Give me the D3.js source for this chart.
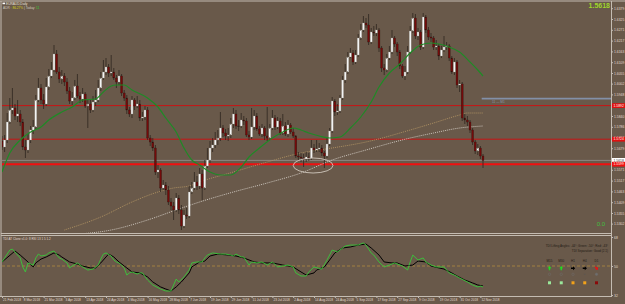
<!DOCTYPE html>
<html><head><meta charset="utf-8">
<script src="https://cdnjs.cloudflare.com/ajax/libs/d3/7.8.5/d3.min.js"></script>
<style>html,body{margin:0;padding:0;background:#69594a;overflow:hidden}svg{display:block}</style>
</head><body><svg id="c" width="625" height="304"></svg>
<script>
// ---------------- DATA ----------------
const symbolTitle = "EURAUD,Daily";
const dateLabels = ["21 Feb 2018","8 Mar 2018","21 Mar 2018","3 Apr 2018","13 Apr 2018","24 Apr 2018","4 May 2018","16 May 2018","28 May 2018","7 Jun 2018","19 Jun 2018","29 Jun 2018","11 Jul 2018","23 Jul 2018","2 Aug 2018","14 Aug 2018","24 Aug 2018","5 Sep 2018","17 Sep 2018","27 Sep 2018","9 Oct 2018","19 Oct 2018","31 Oct 2018","12 Nov 2018"];
const barsPerDateLabel = 8;
const firstOpen = 1.5715;
const closes = [1.5685,1.5720,1.5810,1.5870,1.5880,1.5840,1.5850,1.5810,1.5685,1.5670,
1.5720,1.5770,1.5785,1.5920,1.5980,1.5920,1.5900,1.5985,1.6040,1.6070,
1.6150,1.6060,1.6025,1.6040,1.6010,1.5965,1.5915,1.5930,1.5990,1.5940,
1.5925,1.5950,1.5890,1.5900,1.5870,1.5910,1.5920,1.5980,1.6030,1.6060,
1.6085,1.6055,1.6060,1.6030,1.6010,1.6040,1.5955,1.5930,1.5870,1.5850,
1.5920,1.5890,1.5900,1.5830,1.5835,1.5870,1.5730,1.5710,1.5680,1.5560,
1.5570,1.5480,1.5495,1.5470,1.5410,1.5390,1.5370,1.5430,1.5370,1.5290,
1.5345,1.5340,1.5460,1.5480,1.5510,1.5490,1.5550,1.5480,1.5590,1.5620,
1.5680,1.5695,1.5720,1.5730,1.5780,1.5755,1.5740,1.5745,1.5800,1.5850,
1.5790,1.5790,1.5820,1.5815,1.5745,1.5735,1.5785,1.5840,1.5775,1.5750,
1.5780,1.5740,1.5730,1.5780,1.5830,1.5785,1.5815,1.5755,1.5790,1.5750,
1.5795,1.5760,1.5740,1.5640,1.5635,1.5630,1.5625,1.5635,1.5630,1.5680,
1.5670,1.5675,1.5680,1.5655,1.5640,1.5700,1.5765,1.5915,1.5860,1.5865,
1.5930,1.6020,1.6060,1.6135,1.6155,1.6110,1.6145,1.6230,1.6270,1.6305,
1.6295,1.6210,1.6260,1.6255,1.6270,1.6180,1.6080,1.6070,1.6130,1.6160,
1.6230,1.6200,1.6160,1.6090,1.6040,1.6060,1.6160,1.6265,1.6330,1.6240,
1.6260,1.6185,1.6335,1.6270,1.6235,1.6230,1.6185,1.6190,1.6140,1.6170,
1.6185,1.6190,1.6130,1.6060,1.6110,1.5995,1.6000,1.5830,1.5820,1.5810,
1.5770,1.5710,1.5665,1.5680,1.5640,1.5618];
const highs = [1.5740,1.5745,1.5855,1.5930,1.5980,1.5900,1.5920,1.5870,1.5825,1.5720,
1.5750,1.5790,1.5820,1.5945,1.6030,1.6000,1.5950,1.6030,1.6075,1.6110,
1.6195,1.6170,1.6085,1.6070,1.6055,1.6030,1.5985,1.5960,1.6020,1.6050,
1.5960,1.5980,1.5960,1.5920,1.5920,1.5940,1.5970,1.6020,1.6060,1.6120,
1.6130,1.6100,1.6145,1.6080,1.6045,1.6070,1.6050,1.5970,1.5945,1.5885,
1.5940,1.5930,1.5940,1.5920,1.5860,1.5890,1.5885,1.5745,1.5730,1.5695,
1.5595,1.5580,1.5520,1.5510,1.5490,1.5430,1.5410,1.5455,1.5445,1.5395,
1.5370,1.5380,1.5490,1.5510,1.5560,1.5540,1.5580,1.5570,1.5620,1.5680,
1.5715,1.5730,1.5760,1.5770,1.5860,1.5795,1.5775,1.5780,1.5830,1.5880,
1.5870,1.5820,1.5855,1.5840,1.5830,1.5765,1.5880,1.5870,1.5855,1.5790,
1.5800,1.5790,1.5885,1.5800,1.5870,1.5845,1.5835,1.5830,1.5850,1.5810,
1.5820,1.5805,1.5780,1.5745,1.5660,1.5655,1.5650,1.5660,1.5655,1.5720,
1.5700,1.5720,1.5705,1.5695,1.5665,1.5730,1.5780,1.5935,1.5925,1.5900,
1.5945,1.6040,1.6100,1.6160,1.6180,1.6170,1.6170,1.6250,1.6300,1.6340,
1.6330,1.6350,1.6280,1.6290,1.6300,1.6280,1.6190,1.6100,1.6150,1.6190,
1.6270,1.6240,1.6210,1.6170,1.6100,1.6090,1.6190,1.6290,1.6355,1.6350,
1.6280,1.6270,1.6355,1.6345,1.6285,1.6255,1.6240,1.6220,1.6200,1.6190,
1.6240,1.6210,1.6200,1.6140,1.6130,1.6120,1.6020,1.6010,1.5850,1.5840,
1.5820,1.5780,1.5720,1.5700,1.5690,1.5650];
const lows = [1.5670,1.5660,1.5705,1.5800,1.5850,1.5820,1.5810,1.5790,1.5670,1.5630,
1.5655,1.5705,1.5750,1.5775,1.5910,1.5900,1.5875,1.5890,1.5970,1.6030,
1.6060,1.6050,1.6005,1.6000,1.5990,1.5950,1.5900,1.5895,1.5920,1.5930,
1.5905,1.5910,1.5880,1.5780,1.5855,1.5860,1.5890,1.5910,1.5965,1.6020,
1.6045,1.6035,1.6040,1.6020,1.5980,1.5995,1.5940,1.5915,1.5850,1.5835,
1.5830,1.5870,1.5880,1.5815,1.5815,1.5820,1.5720,1.5690,1.5665,1.5545,
1.5530,1.5460,1.5470,1.5445,1.5395,1.5370,1.5320,1.5360,1.5350,1.5270,
1.5280,1.5325,1.5330,1.5450,1.5470,1.5470,1.5475,1.5420,1.5470,1.5580,
1.5605,1.5660,1.5680,1.5695,1.5715,1.5735,1.5720,1.5715,1.5730,1.5780,
1.5775,1.5765,1.5780,1.5795,1.5735,1.5720,1.5725,1.5770,1.5765,1.5740,
1.5735,1.5720,1.5715,1.5720,1.5770,1.5770,1.5775,1.5745,1.5745,1.5740,
1.5735,1.5750,1.5730,1.5630,1.5615,1.5610,1.5585,1.5610,1.5615,1.5620,
1.5655,1.5660,1.5660,1.5640,1.5580,1.5630,1.5690,1.5755,1.5840,1.5845,
1.5855,1.5920,1.6005,1.6050,1.6130,1.6095,1.6100,1.6135,1.6220,1.6260,
1.6280,1.6195,1.6200,1.6240,1.6240,1.6160,1.6060,1.6045,1.6060,1.6120,
1.6150,1.6185,1.6140,1.6075,1.6030,1.6020,1.6050,1.6150,1.6255,1.6225,
1.6220,1.6170,1.6175,1.6255,1.6220,1.6210,1.6170,1.6170,1.6120,1.6130,
1.6160,1.6170,1.6115,1.6050,1.6045,1.5980,1.5960,1.5815,1.5800,1.5790,
1.5755,1.5695,1.5650,1.5645,1.5625,1.5580];

// moving averages: [bar index], [price]
const maGreenIdx = [0,3,7,11,15,18,23,27,31,36,39,42,44,47,50,56,60,63,67,70,73,76,80,84,88,92,95,99,104,108,112,115,118,122,126,130,134,138,142,145,149,153,157,161,165,168,172,176,180,183,185];
const maGreen = [1.5560,1.5655,1.5720,1.5760,1.5785,1.5820,1.5860,1.5885,1.5920,1.5925,1.5960,1.5990,1.5995,1.5995,1.5970,1.5930,1.5885,1.5830,1.5760,1.5680,1.5620,1.5595,1.5560,1.5545,1.5545,1.5585,1.5635,1.5680,1.5730,1.5760,1.5780,1.5770,1.5755,1.5740,1.5730,1.5735,1.5780,1.5835,1.5910,1.5985,1.6055,1.6100,1.6155,1.6195,1.6205,1.6200,1.6185,1.6160,1.6110,1.6070,1.6040];
const maTanIdx = [24,38,50,60,66,72,76,89,102,115,127,140,157,166,176,179,185];
const maTan = [1.5270,1.5335,1.5410,1.5460,1.5480,1.5490,1.5510,1.5560,1.5610,1.5655,1.5680,1.5710,1.5770,1.5805,1.5845,1.5855,1.5855];
const maGreyIdx = [30,42,56,68,76,89,102,115,127,140,157,166,176,185];
const maGrey = [1.5250,1.5270,1.5320,1.5375,1.5410,1.5460,1.5505,1.5555,1.5620,1.5670,1.5730,1.5755,1.5780,1.5790];

// horizontal levels
const resistanceLevels = [1.5892, 1.5724];
const supportLevel = 1.5599;
const bidPrice = 1.5618;
const projectionLevel = 1.5927;
const projectionLabel = "11 — M1";
const priceTicks = [1.6379,1.6325,1.6271,1.6217,1.6163,1.6109,1.6055,1.6002,1.5948,1.5894,1.5840,1.5786,1.5732,1.5679,1.5625,1.5571,1.5517,1.5463,1.5409,1.5355,1.5302];

// ellipse annotation (bar range, price range)
const ellipseBars = [112, 127.3];
const ellipsePrices = [1.5630, 1.5555];

// TDI sub-window
const tdiLevels = [68, 50, 32];
const tdiGreenIdx = [0,3,4,5,7,8,9,10,12,13,14,15,17,18,20,22,23,25,26,27,29,31,33,35,37,38,39,40,42,43,44,45,47,48,49,50,52,53,54,56,58,61,63,65,66,67,68,70,72,73,75,77,78,79,81,84,86,88,89,90,92,93,95,96,98,100,102,104,106,108,110,112,113,115,117,118,120,123,125,127,129,132,134,137,139,140,142,143,145,147,149,151,154,156,157,158,160,162,163,165,167,170,172,174,176,179,181,183,184,185];
const tdiGreen = [52.5,59.9,60.5,58.7,55.0,49.4,46.3,51.9,50.6,55.0,57.4,56.2,56.8,58.1,59.3,55.0,54.3,51.9,48.8,50.0,51.9,49.4,47.5,48.1,50.6,54.3,57.4,58.1,56.2,53.7,52.5,51.9,48.8,44.4,45.7,46.3,45.0,45.7,45.7,41.3,38.2,35.7,34.5,34.5,38.2,41.9,40.1,43.2,47.5,51.9,52.5,52.5,55.0,56.8,58.1,57.4,57.4,56.8,56.2,57.4,55.6,55.6,50.6,52.5,51.9,52.5,50.6,52.5,49.4,50.0,50.6,49.4,45.7,43.8,43.8,46.3,49.4,48.1,53.7,59.9,58.7,62.4,63.0,63.0,64.3,63.0,58.1,56.8,52.5,49.4,50.6,51.9,50.0,47.5,52.5,56.8,53.7,55.0,52.5,50.6,49.4,49.4,45.7,44.4,42.6,40.1,38.2,37.0,37.6,37.0];
const tdiBlackIdx = [0,5,7,10,12,13,15,17,20,22,23,26,29,31,34,36,38,40,41,43,45,48,50,53,56,58,61,63,65,67,69,72,73,76,78,80,83,87,90,93,97,100,104,108,112,115,117,120,121,124,126,128,131,134,137,140,142,145,147,150,152,155,158,160,163,165,168,170,173,175,178,181,183,185];
const tdiBlack = [52.5,59.3,56.8,52.5,49.4,51.9,54.3,55.6,58.1,56.8,55.6,52.5,51.2,50.0,48.8,48.8,51.9,55.6,57.4,55.6,52.5,48.8,46.3,45.7,43.2,40.1,37.0,35.7,34.5,37.0,40.1,45.7,49.4,52.5,53.1,56.2,57.4,56.8,56.2,55.0,52.5,51.9,51.9,50.6,49.4,46.3,44.4,45.7,47.5,49.4,53.7,58.1,61.2,61.8,63.0,63.6,61.2,56.8,52.5,51.9,51.9,50.0,50.6,53.1,52.5,50.0,48.8,48.1,45.7,43.8,41.3,39.5,38.2,37.6];
const tdiTitle = "TDI AT Clone v1.0: 8 RSI 13 1 5 1.2";
const tdiInfo1 = "TDI Lifting Angles: -44°; Green: -50°; Red: -43°";
const tdiInfo2 = "TDI Separation: Good (2.1)";
const tfLabels = ["M15","M30","H1","H4","D1"];
const tfArrow = ["up","up","right","right","downright"];
const tfDot = ["ring","ring","ring","dash","fill"];
const tfState = ["strong","strong","neutral","neutral","weak"];
const adrLabel = "ADR : ", adrValue = "86.27%", todayLabel = " | Today: ", todayValue = "11";
const cornerValue = "0.0";

// ---------------- DRAW ----------------
const FONT = "'Liberation Sans', Arial, sans-serif";
const svg = d3.select('#c');
svg.append('rect').attr('width',625).attr('height',304).attr('fill','#69594a');

const nBars = closes.length;
const x = d3.scaleLinear().domain([0, nBars-1]).range([2, 483]);
const y = d3.scaleLinear().domain([1.6400, 1.5260]).range([4, 232]);
const yT = d3.scaleLinear().domain([32, 68]).range([295, 237]);

const defs = svg.append('defs');
defs.append('clipPath').attr('id','cm').append('rect').attr('x',2).attr('y',2).attr('width',609.5).attr('height',231);
defs.append('clipPath').attr('id','ct').append('rect').attr('x',2).attr('y',236).attr('width',609.5).attr('height',60);

const main = svg.append('g').attr('clip-path','url(#cm)');

// levels
resistanceLevels.forEach(p => {
  main.append('line').attr('x1',2).attr('x2',612).attr('y1',y(p)).attr('y2',y(p)).attr('stroke','#c81414').attr('stroke-width',1);
});
main.append('line').attr('x1',2).attr('x2',612).attr('y1',y(bidPrice)).attr('y2',y(bidPrice)).attr('stroke','#8e8780').attr('stroke-width',1);
main.append('line').attr('x1',2).attr('x2',612).attr('y1',y(supportLevel)).attr('y2',y(supportLevel)).attr('stroke','#f01010').attr('stroke-width',2);
main.append('line').attr('x1',x(nBars-1.5)).attr('x2',612).attr('y1',y(projectionLevel)).attr('y2',y(projectionLevel)).attr('stroke','#8290a8').attr('stroke-width',1.6);
main.append('text').attr('x',x(nBars-1)+9).attr('y',y(projectionLevel)+4).attr('font-family',FONT).attr('font-size',3.2).attr('fill','#8a96ac').text(projectionLabel);

// moving averages
function maLine(idx, vals){ return idx.map((b,k)=>[x(b), y(vals[k])]); }
const ln = d3.line().curve(d3.curveMonotoneX);
main.append('path').attr('d', ln(maLine(maTanIdx, maTan))).attr('fill','none').attr('stroke','#b39564').attr('stroke-width',0.9).attr('stroke-dasharray','1,1');
main.append('path').attr('d', ln(maLine(maGreyIdx, maGrey))).attr('fill','none').attr('stroke','#d6d0c8').attr('stroke-width',0.9).attr('stroke-dasharray','1,1');

// candles
const bars = closes.map((c,i)=>({i, o: i===0 ? firstOpen : closes[i-1], h: highs[i], l: lows[i], c}));
const cg = main.append('g');
cg.selectAll('line.w').data(bars).join('line').attr('class','w')
  .attr('x1',d=>x(d.i)).attr('x2',d=>x(d.i)).attr('y1',d=>y(d.h)).attr('y2',d=>y(d.l))
  .attr('stroke','#2e2620').attr('stroke-width',0.8);
cg.selectAll('rect.b').data(bars).join('rect').attr('class','b')
  .attr('x',d=>x(d.i)-0.95).attr('width',1.9)
  .attr('y',d=>Math.min(y(d.o),y(d.c)))
  .attr('height',d=>Math.max(0.7, Math.abs(y(d.o)-y(d.c))))
  .attr('fill',d=> d.c>d.o ? '#f4f4f4' : (d.c<d.o ? '#740a0a' : '#2e2620'))
  .attr('stroke',d=> d.c>d.o ? '#9c9890' : '#2a1410').attr('stroke-width',0.3);

main.append('path').attr('d', ln(maLine(maGreenIdx, maGreen))).attr('fill','none').attr('stroke','#1f8a26').attr('stroke-width',1.2);

// ellipse
main.append('ellipse')
  .attr('cx',(x(ellipseBars[0])+x(ellipseBars[1]))/2)
  .attr('cy',(y(ellipsePrices[0])+y(ellipsePrices[1]))/2)
  .attr('rx',(x(ellipseBars[1])-x(ellipseBars[0]))/2)
  .attr('ry',(y(ellipsePrices[1])-y(ellipsePrices[0]))/2)
  .attr('fill','none').attr('stroke','#ddd6cc').attr('stroke-width',0.8);

// frame
const frameCol = '#c4bcb2';
svg.append('line').attr('x1',0).attr('x2',625).attr('y1',1).attr('y2',1).attr('stroke',frameCol).attr('stroke-width',1);
svg.append('line').attr('x1',1).attr('x2',1).attr('y1',1).attr('y2',297).attr('stroke',frameCol).attr('stroke-width',1);
svg.append('line').attr('x1',611.5).attr('x2',611.5).attr('y1',1).attr('y2',297).attr('stroke',frameCol).attr('stroke-width',1);
svg.append('line').attr('x1',1).attr('x2',611.5).attr('y1',233.5).attr('y2',233.5).attr('stroke',frameCol).attr('stroke-width',1);
svg.append('line').attr('x1',1).attr('x2',611.5).attr('y1',235.5).attr('y2',235.5).attr('stroke',frameCol).attr('stroke-width',1);
svg.append('line').attr('x1',0).attr('x2',611.5).attr('y1',296.5).attr('y2',296.5).attr('stroke',frameCol).attr('stroke-width',1);

// price axis
const pa = svg.append('g').attr('transform','translate(611.5,0)')
  .call(d3.axisRight(y).tickValues(priceTicks).tickFormat(d3.format('.4f')).tickSize(1.5).tickPadding(1));
pa.select('.domain').remove();
pa.selectAll('line').attr('stroke',frameCol);
pa.selectAll('text').attr('font-family',FONT).attr('font-size',3.4).attr('fill','#e2dad0');

// highlighted axis labels
function axisTag(p, bg, fg){
  const g = svg.append('g').attr('transform',`translate(612,${y(p)})`);
  g.append('rect').attr('x',0).attr('y',-2.4).attr('width',13).attr('height',4.8).attr('fill',bg);
  g.append('text').attr('x',1.5).attr('y',1.2).attr('font-family',FONT).attr('font-size',3.4).attr('fill',fg).text(d3.format('.4f')(p));
}
resistanceLevels.forEach(p=>axisTag(p,'#e01010','#ffffff'));
axisTag(bidPrice,'#ffffff','#333333');
axisTag(supportLevel,'#f01010','#ffffff');

// date axis
const dateIdx = dateLabels.map((d,k)=>k*barsPerDateLabel);
const da = svg.append('g').attr('transform','translate(0,296.5)')
  .call(d3.axisBottom(x).tickValues(dateIdx).tickFormat((d,k)=>dateLabels[k]).tickSize(1.5).tickPadding(0.8));
da.select('.domain').remove();
da.selectAll('line').attr('stroke',frameCol);
da.selectAll('text').attr('font-family',FONT).attr('font-size',3.2).attr('fill','#e2dad0').attr('text-anchor','start').attr('dx',0.5);

// top-left info
svg.append('rect').attr('x',2.5).attr('y',2.6).attr('width',2.6).attr('height',1.6).attr('fill','#ffffff');
svg.append('text').attr('x',6).attr('y',5).attr('font-family',FONT).attr('font-size',3.2).attr('fill','#e8e0d8').text(symbolTitle);
const info = svg.append('text').attr('x',3).attr('y',9.3).attr('font-family',FONT).attr('font-size',3.2);
info.append('tspan').attr('fill','#d0c8be').text(adrLabel);
info.append('tspan').attr('fill','#d8d020').text(adrValue);
info.append('tspan').attr('fill','#d0c8be').text(todayLabel);
info.append('tspan').attr('fill','#30d030').text(todayValue);

// top-right bid
svg.append('text').attr('x',610).attr('y',8).attr('text-anchor','end').attr('font-family',FONT).attr('font-weight','bold').attr('font-size',7).attr('fill','#9fd62a').text(d3.format('.4f')(bidPrice));
svg.append('text').attr('x',605).attr('y',226).attr('text-anchor','end').attr('font-family',FONT).attr('font-size',6).attr('fill','#3fbf3f').text(cornerValue);

// ---------- TDI panel ----------
const tp = svg.append('g').attr('clip-path','url(#ct)');
tp.append('line').attr('x1',2).attr('x2',611).attr('y1',yT(50)).attr('y2',yT(50)).attr('stroke','#b08a40').attr('stroke-width',0.8).attr('stroke-dasharray','3,2');
const tl = d3.line();
tp.append('path').attr('d', tl(tdiBlackIdx.map((b,k)=>[x(b), yT(tdiBlack[k])]))).attr('fill','none').attr('stroke','#000000').attr('stroke-width',1);
tp.append('path').attr('d', tl(tdiGreenIdx.map((b,k)=>[x(b), yT(tdiGreen[k])]))).attr('fill','none').attr('stroke','#39c83a').attr('stroke-width',0.9);

const ta = svg.append('g').attr('transform','translate(611.5,0)')
  .call(d3.axisRight(yT).tickValues(tdiLevels).tickFormat(d3.format('d')).tickSize(1.5).tickPadding(1));
ta.select('.domain').remove();
ta.selectAll('line').attr('stroke',frameCol);
ta.selectAll('text').attr('font-family',FONT).attr('font-size',3.4).attr('fill','#e2dad0');

svg.append('text').attr('x',3).attr('y',240).attr('font-family',FONT).attr('font-size',3).attr('fill','#e2dad0').text(tdiTitle);
svg.append('text').attr('x',608).attr('y',246.5).attr('text-anchor','end').attr('font-family',FONT).attr('font-size',3).attr('fill','#241c16').text(tdiInfo1);
svg.append('text').attr('x',608).attr('y',251.5).attr('text-anchor','end').attr('font-family',FONT).attr('font-size',3).attr('fill','#241c16').text(tdiInfo2);

const colX = d3.scalePoint().domain(tfLabels).range([549.5, 596.5]);
const arrowCol = {up:'#22dd22', right:'#000000', downright:'#ee1111'};
const stateCol = {strong:'#9be89b', neutral:'#f2a21a', weak:'#8a0a0a'};
tfLabels.forEach((tf,k)=>{
  const cx = colX(tf);
  svg.append('text').attr('x',cx).attr('y',262.3).attr('text-anchor','middle').attr('font-family',FONT).attr('font-size',3).attr('fill','#241c16').text(tf);
  const cy = 268.2;
  let rot = tfArrow[k]==='up' ? -90 : (tfArrow[k]==='right' ? 0 : 45);
  svg.append('path').attr('d','M-2,-0.7 L0,-0.7 L0,-2 L2.2,0 L0,2 L0,0.7 L-2,0.7 Z')
    .attr('transform',`translate(${cx},${cy}) rotate(${rot})`).attr('fill',arrowCol[tfArrow[k]]);
  if (tfDot[k]==='dash') {
    svg.append('line').attr('x1',cx-0.8).attr('x2',cx+0.8).attr('y1',274.3).attr('y2',274.3).attr('stroke','#555').attr('stroke-width',0.6);
  } else {
    svg.append('circle').attr('cx',cx).attr('cy',274.3).attr('r',1.2)
      .attr('fill',tfDot[k]==='fill' ? '#6e6e6e' : 'none').attr('stroke','#6e6a66').attr('stroke-width',0.6);
  }
  svg.append('rect').attr('x',cx-1.5).attr('y',281.3).attr('width',3).attr('height',3).attr('fill',stateCol[tfState[k]]);
});
</script>
</body></html>
